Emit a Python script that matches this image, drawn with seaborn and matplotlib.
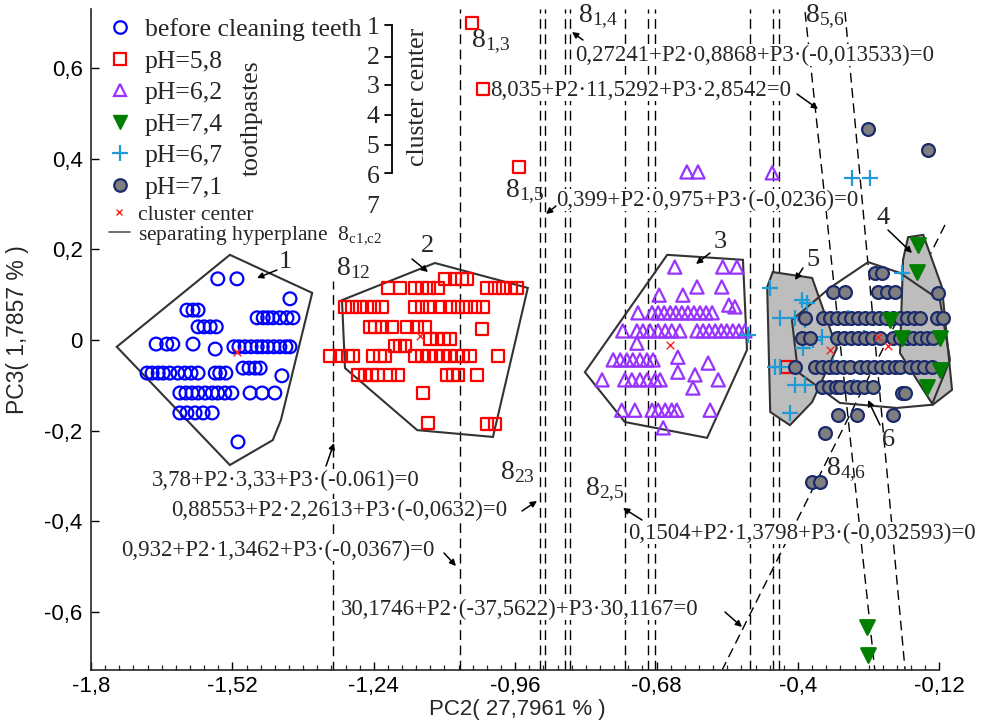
import numpy as np
import pandas as pd
import seaborn as sns
import matplotlib.pyplot as plt
from matplotlib.lines import Line2D
from matplotlib.ticker import FixedLocator, FuncFormatter

# ---- data: PC2 / PC3 scores per group ----
before_x = [-1.549, -1.511, -1.406,
            -1.610, -1.598, -1.588,
            -1.471, -1.459, -1.450, -1.440, -1.426, -1.412, -1.400,
            -1.588, -1.576, -1.564, -1.552,
            -1.671, -1.650, -1.638, -1.598, -1.554,
            -1.517, -1.507, -1.495, -1.483, -1.471, -1.461, -1.450, -1.438, -1.426, -1.414, -1.406,
            -1.499, -1.487, -1.475, -1.465,
            -1.689, -1.679, -1.667, -1.657, -1.644, -1.628, -1.614, -1.602, -1.588, -1.554, -1.545, -1.533,
            -1.422,
            -1.624, -1.612, -1.600, -1.588, -1.574, -1.560, -1.549, -1.535, -1.521, -1.485, -1.461, -1.436,
            -1.624, -1.610, -1.594, -1.578, -1.560,
            -1.509]
before_y = [0.135, 0.135, 0.091,
            0.066, 0.066, 0.066,
            0.049, 0.049, 0.049, 0.049, 0.049, 0.049, 0.049,
            0.029, 0.029, 0.029, 0.029,
            -0.009, -0.009, -0.009, -0.009, -0.020,
            -0.015, -0.015, -0.015, -0.015, -0.015, -0.015, -0.015, -0.015, -0.015, -0.015, -0.015,
            -0.062, -0.062, -0.062, -0.062,
            -0.073, -0.073, -0.073, -0.073, -0.073, -0.073, -0.073, -0.073, -0.073, -0.073, -0.073, -0.073,
            -0.079,
            -0.117, -0.117, -0.117, -0.117, -0.117, -0.117, -0.117, -0.117, -0.117, -0.117, -0.117, -0.117,
            -0.161, -0.161, -0.161, -0.161, -0.161,
            -0.225]

ph58_x = [-1.099, -1.079, -1.065, -1.055,
          -1.212, -1.188, -1.158, -1.145, -1.131, -1.113, -1.016, -1.000, -0.984, -0.968, -0.956,
          -1.297, -1.283, -1.267, -1.253, -1.240, -1.224, -1.158, -1.145, -1.129, -1.109, -1.089, -1.073, -1.057, -1.040, -1.024,
          -1.248, -1.238, -1.224, -1.204, -1.174, -1.154, -1.139,
          -1.026,
          -1.129, -1.115, -1.101, -1.089,
          -1.198, -1.188, -1.178,
          -1.327, -1.307, -1.291, -1.281, -1.242, -1.228, -1.218, -1.158, -1.145, -1.131, -1.117, -1.103, -1.089, -1.075, -1.063, -1.050, -0.994,
          -1.271, -1.257, -1.244, -1.232, -1.208, -1.192, -1.095, -1.083, -1.073, -1.036,
          -1.143, -1.133, -1.016, -1.000,
          -1.046, -1.024, -0.952, -0.422]
ph58_y = [0.135, 0.135, 0.135, 0.135,
          0.115, 0.115, 0.115, 0.115, 0.115, 0.115, 0.115, 0.115, 0.115, 0.115, 0.115,
          0.073, 0.073, 0.073, 0.073, 0.073, 0.073, 0.073, 0.073, 0.073, 0.073, 0.073, 0.073, 0.073, 0.073, 0.073,
          0.029, 0.029, 0.029, 0.029, 0.029, 0.029, 0.029,
          0.024,
          0.002, 0.002, 0.002, 0.002,
          -0.013, -0.013, -0.013,
          -0.035, -0.035, -0.035, -0.035, -0.035, -0.035, -0.035, -0.035, -0.035, -0.035, -0.035, -0.035, -0.035, -0.035, -0.035, -0.035, -0.035,
          -0.077, -0.077, -0.077, -0.077, -0.077, -0.077, -0.077, -0.077, -0.077, -0.077,
          -0.117, -0.183, -0.185, -0.185,
          0.700, 0.554, 0.382, -0.060]

ph62_x = [-0.644, -0.549, -0.521, -0.600, -0.551, -0.675, -0.628, -0.537, -0.525,
          -0.717, -0.689, -0.677, -0.665, -0.653, -0.642, -0.630, -0.618, -0.606, -0.594, -0.582, -0.570,
          -0.747, -0.719, -0.707, -0.693, -0.677, -0.663, -0.650, -0.634, -0.600, -0.588, -0.576, -0.564, -0.552, -0.541, -0.529, -0.517, -0.505,
          -0.719, -0.638,
          -0.766, -0.752, -0.739, -0.727, -0.713, -0.699, -0.687,
          -0.578, -0.638, -0.604, -0.608,
          -0.788, -0.743, -0.729, -0.713, -0.699, -0.683, -0.673, -0.558,
          -0.749, -0.723, -0.689, -0.677, -0.663, -0.650, -0.640, -0.574,
          -0.667,
          -0.620, -0.598, -0.451]
ph62_y = [0.161, 0.161, 0.161, 0.117, 0.117, 0.099, 0.099, 0.077, 0.073,
          0.060, 0.060, 0.060, 0.060, 0.060, 0.060, 0.060, 0.060, 0.060, 0.060, 0.060, 0.060,
          0.020, 0.020, 0.020, 0.020, 0.020, 0.020, 0.020, 0.020, 0.020, 0.020, 0.020, 0.020, 0.020, 0.020, 0.020, 0.020, 0.020,
          -0.007, -0.038,
          -0.044, -0.044, -0.044, -0.044, -0.044, -0.044, -0.044,
          -0.051, -0.071, -0.077, -0.106,
          -0.088, -0.088, -0.088, -0.088, -0.088, -0.088, -0.088, -0.088,
          -0.155, -0.155, -0.155, -0.155, -0.155, -0.155, -0.155, -0.155,
          -0.194,
          0.371, 0.371, 0.369]

ph74_x = [-0.162, -0.164, -0.218, -0.194, -0.119, -0.119, -0.145, -0.263, -0.261]
ph74_y = [0.210, 0.150, 0.044, 0.004, 0.004, -0.066, -0.104, -0.634, -0.695]

ph67_x = [-0.455, -0.392, -0.382, -0.436, -0.406, -0.386, -0.352, -0.370, -0.390, -0.446,
          -0.436, -0.406, -0.386, -0.416, -0.293, -0.257, -0.194, -0.499, -0.300, -0.270, -0.330, -0.290]
ph67_y = [0.115, 0.088, 0.082, 0.049, 0.049, 0.044, 0.007, 0.000, -0.018, -0.060,
          -0.060, -0.099, -0.099, -0.161, 0.358, 0.358, 0.148, 0.011, 0.049, 0.004, -0.060, -0.104]

ph71_x = [-0.248, -0.234,
          -0.331, -0.307, -0.242, -0.224, -0.208,
          -0.123,
          -0.386, -0.350, -0.337, -0.323, -0.309, -0.295, -0.281, -0.267, -0.253, -0.240, -0.226, -0.212, -0.198, -0.184, -0.170, -0.158, -0.125, -0.113,
          -0.392, -0.376, -0.323, -0.309, -0.295, -0.281, -0.267, -0.253, -0.238, -0.212, -0.198, -0.184, -0.172, -0.158, -0.145, -0.133,
          -0.406, -0.366, -0.352, -0.339, -0.325, -0.311, -0.297, -0.277, -0.263, -0.250, -0.236, -0.222, -0.208, -0.198, -0.178, -0.164, -0.150, -0.135,
          -0.352, -0.339, -0.325, -0.317, -0.297, -0.283, -0.269, -0.251,
          -0.194, -0.188, -0.321, -0.283, -0.212, -0.347,
          -0.261, -0.143, -0.372, -0.356]
ph71_y = [0.148, 0.148,
          0.106, 0.106, 0.106, 0.106, 0.106,
          0.104,
          0.049, 0.049, 0.049, 0.049, 0.049, 0.049, 0.049, 0.049, 0.049, 0.049, 0.049, 0.049, 0.049, 0.049, 0.049, 0.049, 0.049, 0.049,
          0.004, 0.004, 0.004, 0.004, 0.004, 0.004, 0.004, 0.004, 0.004, 0.004, 0.004, 0.004, 0.004, 0.004, 0.004, 0.004,
          -0.060, -0.060, -0.060, -0.060, -0.060, -0.060, -0.060, -0.060, -0.060, -0.060, -0.060, -0.060, -0.060, -0.060, -0.060, -0.060, -0.060, -0.060,
          -0.104, -0.104, -0.104, -0.104, -0.104, -0.104, -0.104, -0.104,
          -0.117, -0.117, -0.166, -0.166, -0.166, -0.205,
          0.466, 0.419, -0.313, -0.313]

center_x = [-1.511, -1.149, -0.653, -0.337, -0.242, -0.222]
center_y = [-0.026, 0.009, -0.011, -0.022, 0.007, -0.013]

# cluster outlines
hull1_x = [-1.525, -1.362, -1.424, -1.440, -1.525, -1.749]
hull1_y = [0.188, 0.104, -0.177, -0.221, -0.276, -0.015]
hull2_x = [-1.303, -1.119, -0.935, -1.004, -1.154, -1.297]
hull2_y = [0.088, 0.170, 0.115, -0.214, -0.199, -0.062]
hull3_x = [-0.659, -0.509, -0.501, -0.580, -0.743, -0.822]
hull3_y = [0.188, 0.177, -0.022, -0.216, -0.181, -0.071]
hull4_x = [-0.182, -0.152, -0.115, -0.095, -0.133, -0.198, -0.192]
hull4_y = [0.227, 0.232, 0.117, -0.110, -0.143, -0.029, 0.177]
hull5_x = [-0.450, -0.372, -0.323, -0.372, -0.416, -0.455, -0.461]
hull5_y = [0.150, 0.137, -0.018, -0.137, -0.188, -0.159, 0.117]
hull6_x = [-0.412, -0.337, -0.261, -0.198, -0.119, -0.099, -0.135, -0.204, -0.317, -0.400]
hull6_y = [0.044, 0.115, 0.172, 0.148, 0.088, -0.044, -0.143, -0.150, -0.139, -0.071]

# separating hyperplanes (vertical ones by PC2 position)
plane_x = [-1.069, -0.911, -0.901, -0.861, -0.851, -0.743, -0.697, -0.683, -0.495, -0.450, -0.438]
plane12_x = -1.321
plane12_y = [-0.73, 0.13]
plane56a_x = [-0.386, -0.248]
plane56a_y = [0.724, -0.728]
plane56b_x = [-0.307, -0.188]
plane56b_y = [0.724, -0.728]
plane46_x = [-0.109, -0.550]
plane46_y = [0.254, -0.728]

x_ticks = [-1.8, -1.52, -1.24, -0.96, -0.68, -0.4, -0.12]
y_ticks = [-0.6, -0.4, -0.2, 0, 0.2, 0.4, 0.6]

SERIF = 'Liberation Serif'
SANS = 'Liberation Sans'

sns.set_style("ticks")
plt.rcParams['font.family'] = [SANS, 'DejaVu Sans']
plt.rcParams['mathtext.fontset'] = 'custom'
plt.rcParams['mathtext.rm'] = SERIF

W, H = 989, 721
fig = plt.figure(figsize=(W / 100, H / 100), dpi=100)
ax = fig.add_axes([91 / W, 51 / H, (960 - 91) / W, (670 - 9) / H])
ax.set_xlim(-1.8, -0.0792)
ax.set_ylim(-0.7285, 0.7307)


def ref(px, py):
    # position in the reference picture -> data coordinates (for labels only)
    return -1.8 + (px - 91) / 505, (340 - py) / 453


# hyperplanes
dash = (0, (7, 4))
for xv in plane_x:
    ax.axvline(xv, color='black', lw=1.0, ls=dash, zorder=1)
ax.plot([plane12_x, plane12_x], plane12_y, color='black', lw=1.0, ls=dash, zorder=1)
for xs, ys in [(plane56a_x, plane56a_y), (plane56b_x, plane56b_y), (plane46_x, plane46_y)]:
    ax.plot(xs, ys, color='black', lw=1.0, ls=dash, zorder=1)

# hulls
gray = '#bdbdbd'
edge = '#333333'
ax.fill(hull5_x, hull5_y, facecolor=gray, edgecolor=edge, lw=1.5, zorder=2)
ax.fill(hull4_x, hull4_y, facecolor=gray, edgecolor=edge, lw=1.5, zorder=2)
for hx, hy in [(hull1_x, hull1_y), (hull2_x, hull2_y), (hull3_x, hull3_y), (hull6_x, hull6_y)]:
    ax.fill(hx, hy, facecolor='none', edgecolor=edge, lw=1.5, zorder=2.5)

# points
groups = [
    (before_x, before_y, 'o', 85, 'none', '#0000ff'),
    (ph58_x, ph58_y, 's', 70, 'none', '#ff0000'),
    (ph62_x, ph62_y, '^', 90, 'none', '#9933ff'),
    (ph67_x, ph67_y, '+', 130, None, '#1f9bd6'),
    (ph71_x, ph71_y, 'o', 85, '#7f7f7f', '#1a2a6c'),
    (ph74_x, ph74_y, 'v', 110, '#007f00', '#007f00'),
]
for gx, gy, mk, size, fc, ec in groups:
    df = pd.DataFrame({'PC2': gx, 'PC3': gy})
    sns.scatterplot(data=df, x='PC2', y='PC3', marker=mk, s=size, color=ec,
                    linewidth=1.6, legend=False, ax=ax, zorder=4)
    coll = ax.collections[-1]
    if fc is not None:
        coll.set_facecolor(fc)
        coll.set_edgecolor(ec)
    coll.set_zorder(4)

cdf = pd.DataFrame({'PC2': center_x, 'PC3': center_y})
sns.scatterplot(data=cdf, x='PC2', y='PC3', marker='x', s=30, color='#ff2020',
                linewidth=1.0, legend=False, ax=ax, zorder=5)

# axes styling
for s in ['top', 'right']:
    ax.spines[s].set_visible(False)
ax.spines['bottom'].set_bounds(-1.8, -0.12)
ax.spines['left'].set_linewidth(1.2)
ax.spines['bottom'].set_linewidth(1.2)
ax.xaxis.set_major_locator(FixedLocator(x_ticks))
ax.xaxis.set_minor_locator(FixedLocator(np.arange(-1.8, -0.115, 0.028)))
ax.yaxis.set_major_locator(FixedLocator(y_ticks))
fmt = FuncFormatter(lambda v, p: ('%g' % round(v, 3)).replace('.', ','))
ax.xaxis.set_major_formatter(fmt)
ax.yaxis.set_major_formatter(fmt)
ax.tick_params(axis='both', which='major', direction='in', length=6, width=1.0,
               labelsize=16, pad=6, colors='black')
ax.tick_params(axis='x', which='major', pad=4)
ax.tick_params(axis='x', which='minor', direction='in', length=3.5, width=0.9)
ax.set_xlabel('')
ax.set_ylabel('')
fig.text(517 / W, 1 - 709 / H, 'PC2( 27,7961 % )', ha='center', va='center', fontsize=16)
fig.text(18 / W, 1 - 330 / H, 'PC3( 1,7857 % )', ha='center', va='center', fontsize=16.5,
         rotation=90)

# legend: groups
handles = [
    Line2D([], [], ls='none', marker='o', ms=9, mfc='none', mec='#0000ff', mew=1.6),
    Line2D([], [], ls='none', marker='s', ms=8, mfc='none', mec='#ff0000', mew=1.6),
    Line2D([], [], ls='none', marker='^', ms=9, mfc='none', mec='#9933ff', mew=1.6),
    Line2D([], [], ls='none', marker='v', ms=10, mfc='#007f00', mec='#007f00'),
    Line2D([], [], ls='none', marker='+', ms=11, mec='#1f9bd6', mew=1.6),
    Line2D([], [], ls='none', marker='o', ms=9, mfc='#7f7f7f', mec='#1a2a6c', mew=1.6),
]
labels = ['before cleaning teeth', 'pH=5,8', 'pH=6,2', 'pH=7,4', 'pH=6,7', 'pH=7,1']
leg = ax.legend(handles, labels, loc='upper left', bbox_to_anchor=(97 / W, 1 - 8 / H),
                bbox_transform=fig.transFigure, frameon=False, borderaxespad=0,
                handlelength=1.0, handletextpad=0.47, labelspacing=0.33,
                prop={'family': SERIF, 'size': 18.5})
ax.add_artist(leg)

# legend: centers and hyperplanes
handles2 = [
    Line2D([], [], ls='none', marker='x', ms=5, mec='#ff2020', mew=1.0),
    Line2D([], [], color='#555555', lw=1.2),
]
labels2 = ['cluster center', r'separating hyperplane  $\mathregular{8_{c1{,}c2}}$']
ax.legend(handles2, labels2, loc='upper left', bbox_to_anchor=(100 / W, 1 - 196 / H),
          bbox_transform=fig.transFigure, frameon=False, borderaxespad=0,
          handlelength=1.0, handletextpad=0.35, labelspacing=0.0,
          prop={'family': SERIF, 'size': 15.5})

# side labels next to the legend
ax.text(*ref(252, 118), 'toothpastes', rotation=90, ha='center', va='center',
        fontsize=18.5, family=SERIF)
ax.text(*ref(418, 97), 'cluster center', rotation=90, ha='center', va='center',
        fontsize=18.5, family=SERIF)
for i, yy in enumerate([28, 58, 87, 117, 147, 177, 207]):
    ax.text(*ref(373, yy), str(i + 1), ha='center', va='center', fontsize=18.5, family=SERIF)
bx0, by0 = ref(392, 25)
bx1, by1 = ref(392, 173)
ax.plot([bx0, bx1], [by0, by1], color='black', lw=1.3, clip_on=False)
for yy in [25, 57, 85, 115, 145, 173]:
    tx0, ty = ref(385, yy)
    ax.plot([tx0, bx0], [ty, ty], color='black', lw=1.3, clip_on=False)

# hyperplane labels and equations
box = dict(facecolor='white', edgecolor='none', pad=0.3)
eq_style = dict(fontsize=16.5, family=SERIF, ha='left', va='center', zorder=3, bbox=box)
equations = [
    ('0,27241+P2·0,8868+P3·(-0,013533)=0', 575, 55),
    ('8,035+P2·11,5292+P3·2,8542=0', 490, 90),
    ('0,399+P2·0,975+P3·(-0,0236)=0', 556, 200),
    ('3,78+P2·3,33+P3·(-0.061)=0', 152, 480),
    ('0,88553+P2·2,2613+P3·(-0,0632)=0', 171, 510),
    ('0,932+P2·1,3462+P3·(-0,0367)=0', 121, 550),
    ('0,1504+P2·1,3798+P3·(-0,032593)=0', 628, 533),
    ('30,1746+P2·(-37,5622)+P3·30,1167=0', 341, 609),
]
for txt, px, py in equations:
    ax.text(*ref(px, py), txt, **eq_style)

plane_labels = [
    ('1{,}3', 471, 42), ('1{,}4', 578, 17), ('5{,}6', 805, 17), ('1{,}5', 505, 192),
    ('12', 336, 268), ('23', 500, 472), ('2{,}5', 585, 490), ('4{,}6', 826, 470),
]
for sub, px, py in plane_labels:
    ax.text(*ref(px, py), r'$\mathregular{8_{%s}}$' % sub, fontsize=20, family=SERIF,
            ha='left', va='center', zorder=3)

cluster_ids = [('1', 285, 262), ('2', 428, 246), ('3', 720, 242), ('4', 883, 218),
               ('5', 813, 260), ('6', 888, 440)]
for lab, px, py in cluster_ids:
    ax.text(*ref(px, py), lab, fontsize=19, family=SERIF, ha='center', va='center', zorder=6)

arrows = [
    (277, 270, 257, 278), (412, 259, 428, 272), (710, 253, 696, 264),
    (888, 230, 912, 253), (803, 268, 795, 280), (880, 425, 868, 400),
    (797, 94, 818, 109), (556, 206, 546, 214), (583, 40, 572, 32),
    (326, 466, 334, 443), (522, 511, 537, 501), (444, 553, 456, 566),
    (725, 612, 742, 627), (642, 520, 623, 508),
]
for x0, y0, x1, y1 in arrows:
    ax.annotate('', xy=ref(x1, y1), xytext=ref(x0, y0),
                arrowprops=dict(arrowstyle='-|>', color='black', lw=1.1,
                                mutation_scale=9, shrinkA=0, shrinkB=0), zorder=6)

fig.savefig('out.png', dpi=100)
